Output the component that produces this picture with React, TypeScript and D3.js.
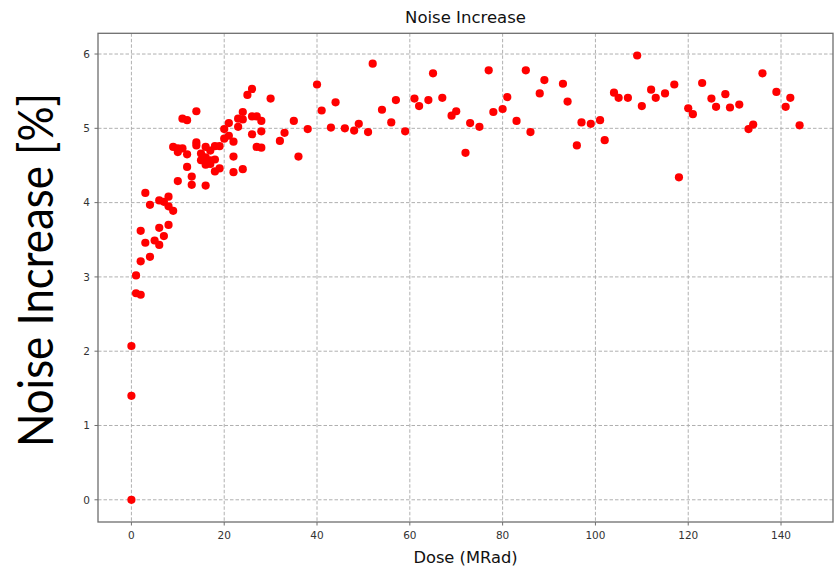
import React from "react";
import * as d3 from "d3";

// Dose in MRad for each measurement
const doses: number[] = [
  0, 0, 0, 1, 1, 2, 2, 2, 3, 4, 5, 6, 7, 6, 8, 3, 4, 6, 7, 8, 8, 9,
  10, 13, 13, 16, 12, 19, 18, 22, 24, 22, 16, 17, 15, 16, 18, 17, 12, 15,
  10, 9, 10, 11, 14, 14, 16, 17, 18, 19, 20, 21, 22, 20, 21, 23, 23, 24,
  24, 26, 27, 28, 26, 28, 27, 28, 25, 26, 30, 14, 11, 12, 32, 33, 35, 36,
  38, 40, 41, 43, 44, 46, 48, 49, 51, 52, 54, 56, 57, 59, 61, 62, 64, 65,
  67, 69, 70, 72, 73, 75, 77, 78, 80, 81, 83, 85, 86, 88, 89, 93, 94, 96,
  97, 99, 101, 102, 104, 105, 107, 109, 110, 112, 113, 115, 117, 118, 120,
  121, 123, 125, 126, 128, 129, 131, 133, 134, 136, 139, 141, 142, 144,
];

// Noise increase in percent, same order as doses
const noiseIncrease: number[] = [
  0, 1.4, 2.07, 3.02, 2.78, 2.76, 3.21, 3.62, 3.46, 3.27, 3.49, 3.43, 3.55,
  3.66, 3.7, 4.13, 3.97, 4.03, 4.01, 4.08, 3.95, 3.89, 4.29, 4.35, 4.24,
  4.23, 4.48, 4.46, 4.42, 4.41, 4.45, 4.62, 4.51, 4.52, 4.57, 4.61, 4.58,
  4.57, 4.65, 4.66, 4.68, 4.75, 4.73, 4.73, 4.81, 4.77, 4.75, 4.7, 4.76,
  4.76, 4.86, 4.9, 4.82, 4.99, 5.07, 5.02, 5.13, 5.12, 5.22, 5.16, 5.16,
  5.1, 4.92, 4.96, 4.75, 4.74, 5.45, 5.53, 5.4, 5.23, 5.13, 5.11, 4.83,
  4.94, 5.1, 4.62, 4.99, 5.59, 5.24, 5.01, 5.35, 5.0, 4.97, 5.06, 4.95,
  5.87, 5.25, 5.08, 5.38, 4.96, 5.4, 5.3, 5.38, 5.74, 5.41, 5.17, 5.23,
  4.67, 5.07, 5.02, 5.78, 5.22, 5.26, 5.42, 5.1, 5.78, 4.95, 5.47, 5.65,
  5.6, 5.36, 4.77, 5.08, 5.06, 5.11, 4.84, 5.48, 5.41, 5.41, 5.98, 5.3,
  5.52, 5.41, 5.47, 5.59, 4.34, 5.27, 5.19, 5.61, 5.4, 5.29, 5.46, 5.28,
  5.32, 4.99, 5.05, 5.74, 5.49, 5.29, 5.41, 5.04,
];

const xTicks: number[] = [0, 20, 40, 60, 80, 100, 120, 140];
const yTicks: number[] = [0, 1, 2, 3, 4, 5, 6];

const chartTitle = "Noise Increase";
const xTitle = "Dose (MRad)";
const yTitle = "Noise Increase [%]";

const W = 834;
const H = 568;
const plot = { left: 98, right: 833, top: 33.3, bottom: 522 };

export default function App() {
  const points = doses.map((d, i) => ({ x: d, y: noiseIncrease[i] }));

  const xExt = d3.extent(doses) as [number, number];
  const yExt = d3.extent(noiseIncrease) as [number, number];
  const xPad = (xExt[1] - xExt[0]) * 0.05;
  const yPad = (yExt[1] - yExt[0]) * 0.05;

  const x = d3
    .scaleLinear()
    .domain([xExt[0] - xPad, xExt[1] + xPad])
    .range([plot.left, plot.right]);
  const y = d3
    .scaleLinear()
    .domain([yExt[0] - yPad, yExt[1] + yPad])
    .range([plot.bottom, plot.top]);

  const gridColor = "#b0b0b0";
  const spineColor = "#6e6e6e";
  const tickFont = "'DejaVu Sans', sans-serif";
  const midX = (plot.left + plot.right) / 2;

  return (
    <div style={{ position: "absolute", left: 0, top: 0 }}>
      <svg width={W} height={H} style={{ display: "block", background: "#fff" }}>
        {/* grid */}
        <g stroke={gridColor} strokeWidth={1} strokeDasharray="3.5,2">
          {xTicks.map((t) => (
            <line key={`gx${t}`} x1={x(t)} x2={x(t)} y1={plot.top} y2={plot.bottom} />
          ))}
          {yTicks.map((t) => (
            <line key={`gy${t}`} x1={plot.left} x2={plot.right} y1={y(t)} y2={y(t)} />
          ))}
        </g>

        {/* scatter */}
        <g fill="#ff0000">
          {points.map((p, i) => (
            <circle key={i} cx={x(p.x)} cy={y(p.y)} r={4.1} />
          ))}
        </g>

        {/* frame */}
        <rect
          x={plot.left}
          y={plot.top}
          width={plot.right - plot.left}
          height={plot.bottom - plot.top}
          fill="none"
          stroke={spineColor}
          strokeWidth={1.3}
        />

        {/* x ticks */}
        <g fontFamily={tickFont} fontSize={10.5} fill="#333">
          {xTicks.map((t) => (
            <g key={`xt${t}`}>
              <line x1={x(t)} x2={x(t)} y1={plot.bottom} y2={plot.bottom + 3.5} stroke={spineColor} />
              <text x={x(t)} y={plot.bottom + 17} textAnchor="middle">
                {t}
              </text>
            </g>
          ))}
          {yTicks.map((t) => (
            <g key={`yt${t}`}>
              <line x1={plot.left - 3.5} x2={plot.left} y1={y(t)} y2={y(t)} stroke={spineColor} />
              <text x={plot.left - 8} y={y(t)} dy="0.36em" textAnchor="end">
                {t}
              </text>
            </g>
          ))}
        </g>

        {/* titles */}
        <text
          x={midX}
          y={23.3}
          textAnchor="middle"
          fontFamily={tickFont}
          fontSize={16.5}
          fill="#111"
        >
          {chartTitle}
        </text>
        <text
          x={midX}
          y={563}
          textAnchor="middle"
          fontFamily={tickFont}
          fontSize={16.3}
          fill="#111"
        >
          {xTitle}
        </text>
        <text
          transform={`translate(53.3,${(93 + 447) / 2}) rotate(-90)`}
          textAnchor="middle"
          fontFamily="Lato, 'Open Sans', sans-serif"
          fontSize={49}
          textLength={354}
          lengthAdjust="spacingAndGlyphs"
          fill="#000"
        >
          {yTitle}
        </text>
      </svg>
    </div>
  );
}
